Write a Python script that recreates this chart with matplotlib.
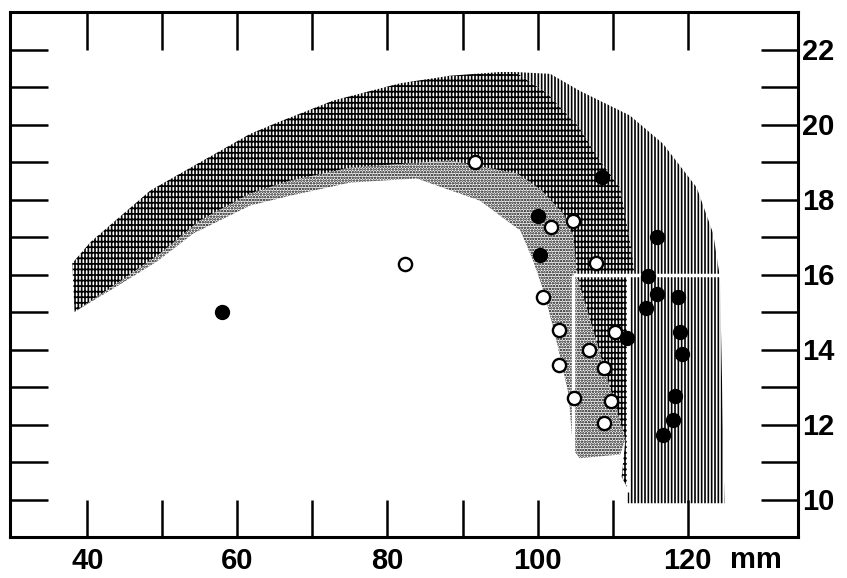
import matplotlib
matplotlib.use('Agg')
import matplotlib.pyplot as plt
from matplotlib.patches import Polygon
import numpy as np

plt.rcParams['font.family'] = ['Liberation Sans', 'DejaVu Sans']
plt.rcParams['font.weight'] = 'bold'
plt.rcParams['hatch.linewidth'] = 1.2

# upper edge of the curved band (crosshatched part), left end -> top
arc_top_x = [38.0, 40.4, 48.4, 55.0, 61.7, 65.3, 72.8, 81.7, 88.3, 95.0]
arc_top_y = [16.3, 16.86, 18.24, 18.99, 19.75, 20.05, 20.64, 21.1, 21.3, 21.4]
# outer edge of the wavy part, top -> lower right corner
outer_x = [97.0, 101.7, 105.6, 112.3, 116.7, 121.2, 123.4, 124.3, 124.9]
outer_y = [21.4, 21.35, 20.9, 20.24, 19.49, 18.32, 17.09, 15.92, 9.9]
# border crosshatch / wavy
split_x = [97.0, 101.3, 105.6, 108.3, 111.0, 112.6, 112.9]
split_y = [21.4, 20.83, 19.92, 19.04, 18.32, 16.56, 16.0]
# border crosshatch / stipple
inner_x = [38.3, 45.3, 49.3, 55.0, 61.7, 67.0, 75.0, 88.3, 97.3, 100.5, 103.5, 104.8, 105.2]
inner_y = [15.0, 15.95, 16.5, 17.44, 18.16, 18.5, 18.85, 19.04, 18.69, 18.25, 17.6, 17.0, 16.0]
# lower (inner) edge of the stippled part
low_x = [38.3, 45.3, 49.3, 54.1, 61.7, 67.0, 75.0, 83.9, 92.3, 97.7, 99.4, 100.9, 102.6, 104.1, 104.6]
low_y = [15.0, 15.85, 16.35, 17.09, 17.84, 18.1, 18.45, 18.56, 17.97, 17.17, 16.37, 15.5, 14.16, 12.83, 11.65]
# middle column below 16: crosshatch/stipple diagonal and bottoms
col_split_x = [105.2, 111.7]
col_split_y = [16.0, 11.6]
col_cross_bot_x = [112.0, 112.0, 111.2]
col_cross_bot_y = [16.0, 10.3, 10.6]
col_stip_bot_x = [111.0, 105.6, 104.7]
col_stip_bot_y = [11.2, 11.1, 11.35]
wavy_bot_x = [112.0, 112.0]
wavy_bot_y = [9.9, 16.0]

# white gaps
gap_h_x = [104.7, 124.6]
gap_h_y = [16.0, 16.0]
gap_v1_x = [104.7, 104.7]
gap_v1_y = [16.0, 11.3]
gap_v2_x = [112.0, 112.0]
gap_v2_y = [16.0, 10.2]

# points
open_x = [82.3, 91.7, 101.8, 104.7, 107.8, 100.7, 102.8, 110.3, 106.8, 102.8, 108.8, 104.8, 109.8, 108.8]
open_y = [16.29, 19.01, 17.28, 17.44, 16.32, 15.41, 14.51, 14.48, 14.0, 13.6, 13.52, 12.72, 12.64, 12.03]
filled_x = [58.0, 108.6, 100.1, 100.3, 115.9, 114.7, 115.9, 118.7, 114.4, 111.9, 119.0, 119.2, 118.3, 118.0, 116.7]
filled_y = [15.0, 18.61, 17.57, 16.51, 17.01, 15.97, 15.49, 15.41, 15.12, 14.32, 14.48, 13.89, 12.77, 12.13, 11.73]

xticks = [40, 50, 60, 70, 80, 90, 100, 110, 120]
xlabels = ['40', '', '60', '', '80', '', '100', '', '120']
yticks = list(range(10, 23))
ylabels = [str(v) if v % 2 == 0 else '' for v in yticks]


def poly(xs, ys):
    return np.column_stack([xs, ys])


fig = plt.figure(figsize=(8.47, 5.78), dpi=100)
ax = fig.add_axes([10 / 847, 41 / 578, 788 / 847, 525 / 578])

wavy = np.vstack([poly(outer_x, outer_y), poly(wavy_bot_x, wavy_bot_y),
                  poly(split_x[::-1], split_y[::-1])])
cross = np.vstack([poly(arc_top_x, arc_top_y), poly(split_x, split_y),
                   poly(col_cross_bot_x, col_cross_bot_y),
                   poly(col_split_x[::-1], col_split_y[::-1]),
                   poly(inner_x[::-1], inner_y[::-1])])
stip = np.vstack([poly(inner_x, inner_y), poly(col_split_x, col_split_y),
                  poly(col_stip_bot_x, col_stip_bot_y),
                  poly(low_x[::-1], low_y[::-1])])

ax.add_patch(Polygon(wavy, closed=True, facecolor='none', edgecolor='black',
                     linewidth=0, hatch='|||||'))
ax.add_patch(Polygon(cross, closed=True, facecolor='none', edgecolor='black',
                     linewidth=0, hatch='|||||---'))
ax.add_patch(Polygon(stip, closed=True, facecolor='none', edgecolor='black',
                     linewidth=0, hatch='......'))

for gx, gy in [(gap_h_x, gap_h_y), (gap_v1_x, gap_v1_y), (gap_v2_x, gap_v2_y)]:
    ax.plot(gx, gy, color='white', linewidth=2.5, solid_capstyle='butt')

ax.plot(open_x, open_y, 'o', markersize=9.5, markerfacecolor='white',
        markeredgecolor='black', markeredgewidth=1.7, linestyle='none')
ax.plot(filled_x, filled_y, 'o', markersize=10, color='black', linestyle='none')

ax.set_xlim(29.7, 134.7)
ax.set_ylim(9.0, 23.0)
ax.set_xticks(xticks)
ax.set_xticklabels(xlabels)
ax.set_yticks(yticks)
ax.set_yticklabels(ylabels)
ax.tick_params(axis='x', direction='in', length=27, width=1.8, top=True,
               bottom=True, labelsize=21, pad=7)
ax.tick_params(axis='y', direction='in', length=27, width=1.8, left=True,
               right=True, labelleft=False, labelright=True, labelsize=21, pad=3)
for s in ax.spines.values():
    s.set_linewidth(2.2)

fig.text(730 / 847, 10 / 578, 'mm', fontsize=21, fontweight='bold',
         ha='left', va='baseline')

fig.savefig('out.png', dpi=100)
